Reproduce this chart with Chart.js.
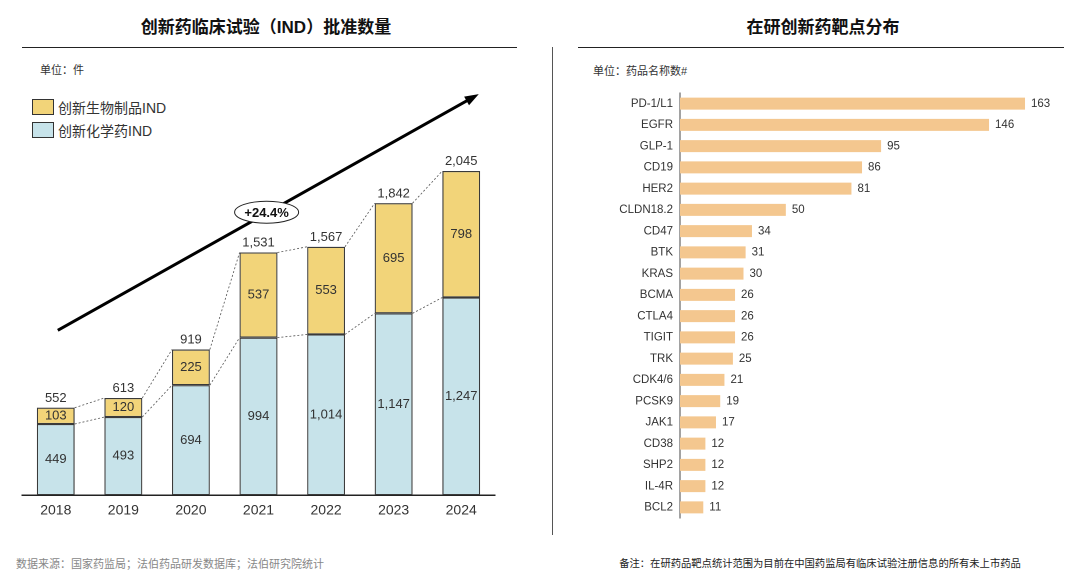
<!DOCTYPE html>
<html><head><meta charset="utf-8">
<script src="https://cdn.jsdelivr.net/npm/chart.js@4"></script>
<style>
body{margin:0;width:1080px;height:582px;position:relative;background:#fff;overflow:hidden;font-family:"Liberation Sans","Noto Sans CJK SC",sans-serif;color:#333;}
.abs{position:absolute;white-space:nowrap;}
.title{font-size:17px;font-weight:bold;color:#111;transform:translateX(-50%);top:13px;}
.hr{position:absolute;height:1px;background:#222;}
.unit{font-size:11px;color:#333;}
.lg{font-size:14px;color:#333;}
.box{position:absolute;width:20px;height:14px;border:1px solid #333;}
canvas{position:absolute;top:0;}
</style></head>
<body>
<div class="abs title" style="left:266px;">创新药临床试验（IND）批准数量</div>
<div class="hr" style="left:22px;top:47px;width:495px;"></div>
<div class="abs unit" style="left:40px;top:61px;">单位：件</div>
<div class="box" style="left:32px;top:99px;background:#F2D479;"></div>
<div class="abs lg" style="left:58px;top:97px;">创新生物制品IND</div>
<div class="box" style="left:32px;top:122px;background:#C7E3EA;"></div>
<div class="abs lg" style="left:58px;top:120px;">创新化学药IND</div>
<div class="abs" style="left:16px;top:555px;font-size:11px;color:#888;">数据来源：国家药监局；法伯药品研发数据库；法伯研究院统计</div>

<div style="position:absolute;left:552px;top:47px;width:1px;height:488px;background:#555;"></div>
<div class="abs title" style="left:823px;">在研创新药靶点分布</div>
<div class="hr" style="left:578px;top:47px;width:486px;"></div>
<div class="abs unit" style="left:593px;top:62px;">单位：药品名称数#</div>
<div class="abs" style="left:820px;top:555px;font-size:10.3px;color:#222;transform:translateX(-50%);">备注：在研药品靶点统计范围为目前在中国药监局有临床试验注册信息的所有未上市药品</div>

<canvas id="c1" width="540" height="582" style="left:0;"></canvas>
<canvas id="c2" width="520" height="582" style="left:560px;"></canvas>

<script>
// ---- data ----
const years = ['2018','2019','2020','2021','2022','2023','2024'];
const chemIND = [449,493,694,994,1014,1147,1247];
const bioIND = [103,120,225,537,553,695,798];
const growthLabel = '+24.4%';
const targets = ['PD-1/L1','EGFR','GLP-1','CD19','HER2','CLDN18.2','CD47','BTK','KRAS','BCMA','CTLA4','TIGIT','TRK','CDK4/6','PCSK9','JAK1','CD38','SHP2','IL-4R','BCL2'];
const targetCounts = [163,146,95,86,81,50,34,31,30,26,26,26,25,21,19,17,12,12,12,11];

const FONT = '"Liberation Sans","Noto Sans CJK SC",sans-serif';
const fmt = v => v.toLocaleString('en-US');

const leftPlugin = {
  id: 'leftDecor',
  afterDatasetsDraw(chart) {
    const ctx = chart.ctx;
    const m0 = chart.getDatasetMeta(0).data;
    const m1 = chart.getDatasetMeta(1).data;
    const xs = chart.scales.x, ys = chart.scales.y;
    ctx.save();
    // dashed connectors
    ctx.strokeStyle = '#555';
    ctx.lineWidth = 0.8;
    ctx.setLineDash([2,2]);
    for (let i = 0; i < m0.length - 1; i++) {
      [m0, m1].forEach(m => {
        const a = m[i], b = m[i+1];
        ctx.beginPath();
        ctx.moveTo(a.x + a.width/2, a.y);
        ctx.lineTo(b.x - b.width/2, b.y);
        ctx.stroke();
      });
    }
    ctx.setLineDash([]);
    // labels
    ctx.fillStyle = '#333';
    ctx.font = '13px ' + FONT;
    ctx.textAlign = 'center';
    ctx.textBaseline = 'middle';
    m0.forEach((b, i) => ctx.fillText(fmt(chemIND[i]), b.x, (b.y + b.base) / 2));
    m1.forEach((b, i) => ctx.fillText(fmt(bioIND[i]), b.x, (b.y + b.base) / 2));
    ctx.textBaseline = 'bottom';
    m1.forEach((b, i) => ctx.fillText(fmt(chemIND[i] + bioIND[i]), b.x, b.y - 3));
    // trend arrow (in data space)
    const x1 = xs.getPixelForValue(0.03), y1 = ys.getPixelForValue(1040);
    const x2 = xs.getPixelForValue(6.26), y2 = ys.getPixelForValue(2530);
    ctx.strokeStyle = '#000';
    ctx.fillStyle = '#000';
    ctx.lineWidth = 3;
    const ang = Math.atan2(y2 - y1, x2 - x1);
    const hl = 14;
    ctx.beginPath();
    ctx.moveTo(x1, y1);
    ctx.lineTo(x2 - (hl - 2) * Math.cos(ang), y2 - (hl - 2) * Math.sin(ang));
    ctx.stroke();
    ctx.beginPath();
    ctx.moveTo(x2, y2);
    ctx.lineTo(x2 - hl * Math.cos(ang) + 5 * Math.sin(ang), y2 - hl * Math.sin(ang) - 5 * Math.cos(ang));
    ctx.lineTo(x2 - hl * Math.cos(ang) - 5 * Math.sin(ang), y2 - hl * Math.sin(ang) + 5 * Math.cos(ang));
    ctx.closePath();
    ctx.fill();
    // ellipse label
    const ex = xs.getPixelForValue(3.12), ey = ys.getPixelForValue(1785);
    ctx.beginPath();
    ctx.ellipse(ex, ey, 32, 11, 0, 0, Math.PI * 2);
    ctx.fillStyle = '#fff';
    ctx.fill();
    ctx.lineWidth = 1;
    ctx.strokeStyle = '#222';
    ctx.stroke();
    ctx.fillStyle = '#111';
    ctx.font = 'bold 13px ' + FONT;
    ctx.textBaseline = 'middle';
    ctx.fillText(growthLabel, ex, ey + 1);
    ctx.restore();
  }
};

new Chart(document.getElementById('c1'), {
  type: 'bar',
  data: {
    labels: years,
    datasets: [
      { label: '创新化学药IND', data: chemIND, backgroundColor: '#C7E3EA', borderColor: '#3a3a3a', borderWidth: 1.2, borderSkipped: false },
      { label: '创新生物制品IND', data: bioIND, backgroundColor: '#F2D479', borderColor: '#3a3a3a', borderWidth: 1.2, borderSkipped: false }
    ]
  },
  options: {
    responsive: false,
    animation: false,
    devicePixelRatio: 2,
    layout: { padding: { left: 22, right: 45, top: 83, bottom: 56 } },
    plugins: { legend: { display: false }, tooltip: { enabled: false } },
    datasets: { bar: { barPercentage: 0.56, categoryPercentage: 1 } },
    scales: {
      x: {
        stacked: true,
        grid: { display: false, drawTicks: false },
        border: { display: true, color: '#222', width: 1.5 },
        ticks: { color: '#333', font: { size: 14, family: FONT }, padding: 7 }
      },
      y: { stacked: true, display: false, min: 0, max: 2600 }
    }
  },
  plugins: [leftPlugin]
});

const rightPlugin = {
  id: 'rightLabels',
  afterDatasetsDraw(chart) {
    const ctx = chart.ctx;
    ctx.save();
    ctx.fillStyle = '#333';
    ctx.font = '11.5px ' + FONT;
    ctx.textAlign = 'left';
    ctx.textBaseline = 'middle';
    chart.getDatasetMeta(0).data.forEach((b, i) => ctx.fillText(String(targetCounts[i]), b.x + 6, b.y));
    ctx.restore();
  }
};

new Chart(document.getElementById('c2'), {
  type: 'bar',
  data: {
    labels: targets,
    datasets: [{ data: targetCounts, backgroundColor: '#F4C78F', borderWidth: 0, barPercentage: 0.57, categoryPercentage: 1 }]
  },
  options: {
    indexAxis: 'y',
    responsive: false,
    animation: false,
    devicePixelRatio: 2,
    layout: { padding: { left: 0, right: 19, top: 93, bottom: 64 } },
    plugins: { legend: { display: false }, tooltip: { enabled: false } },
    scales: {
      x: { display: false, min: 0, max: 180 },
      y: {
        grid: { display: false, drawTicks: false },
        border: { display: true, color: '#444', width: 1 },
        ticks: { color: '#333', font: { size: 11.5, family: FONT }, padding: 7 },
        afterFit: s => { s.width = 120; }
      }
    }
  },
  plugins: [rightPlugin]
});
</script>
</body></html>
